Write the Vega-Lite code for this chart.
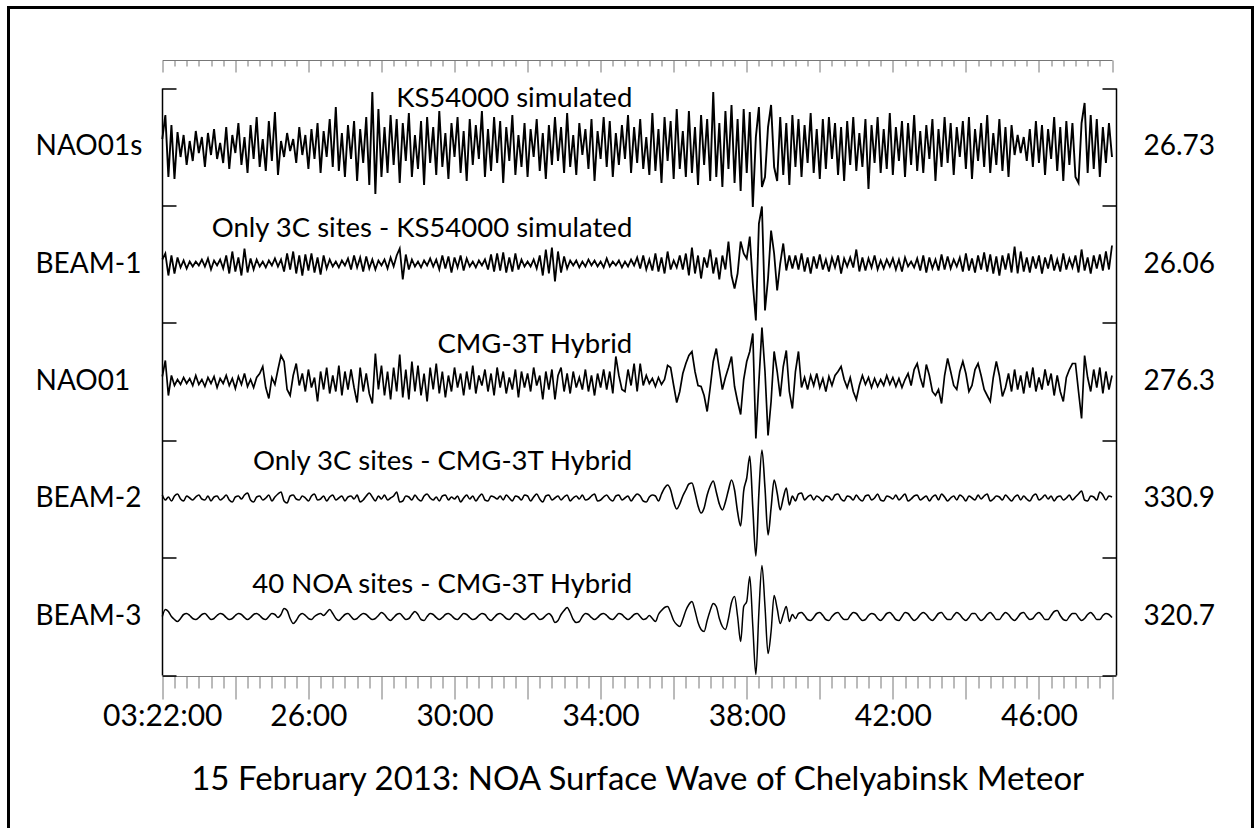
{
  "$schema": "https://vega.github.io/schema/vega-lite/v6.json",
  "width": 1244,
  "height": 832,
  "autosize": {"type": "none"},
  "padding": {"left": 8.5, "top": 7.5, "right": 2.5, "bottom": -11.5},
  "background": "white",
  "config": {
    "view": {"stroke": "black", "strokeWidth": 3},
    "font": "Lato",
    "axis": {"labelFont": "Lato", "titleFont": "Lato", "grid": false}
  },
  "datasets": {
    "notes": [
      {"note": "KS54000 simulated", "t": 772, "y": 568},
      {"note": "Only 3C sites - KS54000 simulated", "t": 772, "y": 438},
      {"note": "CMG-3T Hybrid", "t": 772, "y": 322},
      {"note": "Only 3C sites - CMG-3T Hybrid", "t": 772, "y": 205},
      {"note": "40 NOA sites - CMG-3T Hybrid", "t": 772, "y": 82}
    ],
    "traces": [
      {"t":0,"a":8,"b":4,"c":5,"d":3,"e":0},
      {"t":5,"a":32,"b":10,"c":21,"d":-2,"e":7},
      {"t":10,"a":-30,"b":-12,"c":-14,"d":1,"e":5},
      {"t":15,"a":22,"b":8,"c":6,"d":-3,"e":0},
      {"t":20,"a":-32,"b":-10,"c":-4,"d":2,"e":-3},
      {"t":25,"a":15,"b":6,"c":2,"d":4,"e":-5},
      {"t":30,"a":-10,"b":-4,"c":-3,"d":-1,"e":-2},
      {"t":35,"a":12,"b":3,"c":4,"d":-3,"e":2},
      {"t":40,"a":-18,"b":-5,"c":-2,"d":2,"e":3},
      {"t":45,"a":6,"b":2,"c":3,"d":0,"e":1},
      {"t":50,"a":-14,"b":-3,"c":-4,"d":-2,"e":-2},
      {"t":55,"a":16,"b":2,"c":6,"d":1,"e":-3},
      {"t":60,"a":-6,"b":-2,"c":-3,"d":3,"e":-1},
      {"t":65,"a":10,"b":4,"c":2,"d":-1,"e":2},
      {"t":70,"a":-20,"b":-3,"c":-5,"d":-2,"e":3},
      {"t":75,"a":14,"b":5,"c":4,"d":2,"e":0},
      {"t":80,"a":-8,"b":-6,"c":-2,"d":-3,"e":-3},
      {"t":85,"a":18,"b":3,"c":5,"d":1,"e":-2},
      {"t":90,"a":-12,"b":-2,"c":-6,"d":2,"e":1},
      {"t":95,"a":4,"b":4,"c":3,"d":-2,"e":3},
      {"t":100,"a":-16,"b":-5,"c":-2,"d":0,"e":2},
      {"t":105,"a":20,"b":8,"c":6,"d":3,"e":-1},
      {"t":110,"a":-22,"b":-10,"c":-4,"d":-2,"e":-3},
      {"t":115,"a":12,"b":12,"c":3,"d":-4,"e":-2},
      {"t":120,"a":-6,"b":-8,"c":-7,"d":1,"e":1},
      {"t":125,"a":24,"b":6,"c":5,"d":2,"e":3},
      {"t":130,"a":-18,"b":-12,"c":-3,"d":-1,"e":2},
      {"t":135,"a":10,"b":15,"c":8,"d":3,"e":-1},
      {"t":140,"a":-26,"b":-9,"c":-5,"d":5,"e":-3},
      {"t":145,"a":22,"b":5,"c":2,"d":-2,"e":-1},
      {"t":150,"a":-12,"b":-6,"c":-6,"d":-4,"e":2},
      {"t":155,"a":30,"b":4,"c":4,"d":1,"e":3},
      {"t":160,"a":-20,"b":-3,"c":8,"d":2,"e":1},
      {"t":165,"a":8,"b":2,"c":15,"d":-2,"e":-2},
      {"t":170,"a":-24,"b":-4,"c":-6,"d":0,"e":-3},
      {"t":175,"a":26,"b":3,"c":-17,"d":3,"e":0},
      {"t":180,"a":-14,"b":-2,"c":4,"d":-3,"e":3},
      {"t":185,"a":35,"b":5,"c":-3,"d":1,"e":2},
      {"t":190,"a":-28,"b":-3,"c":12,"d":4,"e":-1},
      {"t":195,"a":6,"b":4,"c":26,"d":6,"e":2},
      {"t":200,"a":-10,"b":-8,"c":20,"d":-3,"e":8},
      {"t":205,"a":14,"b":10,"c":-8,"d":-5,"e":6},
      {"t":210,"a":-4,"b":-6,"c":-14,"d":2,"e":-2},
      {"t":215,"a":8,"b":12,"c":6,"d":3,"e":-7},
      {"t":220,"a":-16,"b":-10,"c":18,"d":-1,"e":-4},
      {"t":225,"a":20,"b":8,"c":-4,"d":-2,"e":1},
      {"t":230,"a":-8,"b":-12,"c":8,"d":2,"e":3},
      {"t":235,"a":12,"b":9,"c":-10,"d":0,"e":1},
      {"t":240,"a":-22,"b":-7,"c":12,"d":-3,"e":-2},
      {"t":245,"a":18,"b":10,"c":-6,"d":2,"e":-3},
      {"t":250,"a":-12,"b":-9,"c":4,"d":4,"e":0},
      {"t":255,"a":24,"b":6,"c":-20,"d":-2,"e":2},
      {"t":260,"a":-26,"b":-11,"c":10,"d":-1,"e":3},
      {"t":265,"a":16,"b":8,"c":-8,"d":2,"e":1},
      {"t":270,"a":-10,"b":-5,"c":14,"d":-3,"e":4},
      {"t":275,"a":28,"b":4,"c":-12,"d":1,"e":7},
      {"t":280,"a":-20,"b":-3,"c":6,"d":3,"e":3},
      {"t":285,"a":40,"b":2,"c":-10,"d":-2,"e":-2},
      {"t":290,"a":-24,"b":-4,"c":16,"d":0,"e":-4},
      {"t":295,"a":14,"b":3,"c":-14,"d":2,"e":-1},
      {"t":300,"a":-30,"b":-2,"c":10,"d":-3,"e":2},
      {"t":305,"a":22,"b":5,"c":-8,"d":1,"e":3},
      {"t":310,"a":-12,"b":-6,"c":12,"d":2,"e":0},
      {"t":315,"a":26,"b":8,"c":-6,"d":-1,"e":-3},
      {"t":320,"a":-34,"b":-4,"c":-21,"d":3,"e":-2},
      {"t":325,"a":18,"b":6,"c":14,"d":-4,"e":1},
      {"t":330,"a":-16,"b":-8,"c":-10,"d":-2,"e":3},
      {"t":335,"a":30,"b":7,"c":8,"d":2,"e":2},
      {"t":340,"a":-38,"b":-5,"c":-12,"d":5,"e":-1},
      {"t":345,"a":55,"b":4,"c":-22,"d":1,"e":-3},
      {"t":350,"a":-47,"b":-6,"c":28,"d":-3,"e":-2},
      {"t":355,"a":38,"b":3,"c":-8,"d":2,"e":1},
      {"t":360,"a":-30,"b":-2,"c":16,"d":-1,"e":4},
      {"t":365,"a":20,"b":4,"c":-14,"d":3,"e":2},
      {"t":370,"a":-26,"b":-5,"c":10,"d":-2,"e":-2},
      {"t":375,"a":32,"b":6,"c":-18,"d":0,"e":-4},
      {"t":380,"a":-18,"b":-3,"c":14,"d":2,"e":-1},
      {"t":385,"a":28,"b":8,"c":-10,"d":6,"e":2},
      {"t":390,"a":-36,"b":15,"c":27,"d":-4,"e":3},
      {"t":395,"a":24,"b":-16,"c":-16,"d":-3,"e":0},
      {"t":400,"a":-14,"b":9,"c":12,"d":2,"e":-3},
      {"t":405,"a":34,"b":-6,"c":-18,"d":1,"e":-2},
      {"t":410,"a":-30,"b":4,"c":20,"d":-2,"e":2},
      {"t":415,"a":12,"b":-3,"c":-10,"d":3,"e":5},
      {"t":420,"a":-22,"b":2,"c":16,"d":-1,"e":2},
      {"t":425,"a":26,"b":-4,"c":-14,"d":-3,"e":-3},
      {"t":430,"a":-38,"b":3,"c":8,"d":2,"e":-4},
      {"t":435,"a":30,"b":-2,"c":-20,"d":4,"e":0},
      {"t":440,"a":-16,"b":5,"c":14,"d":0,"e":3},
      {"t":445,"a":20,"b":-3,"c":-8,"d":-2,"e":2},
      {"t":450,"a":-28,"b":4,"c":18,"d":1,"e":-1},
      {"t":455,"a":36,"b":-6,"c":-12,"d":-3,"e":-3},
      {"t":460,"a":-20,"b":8,"c":10,"d":2,"e":-1},
      {"t":465,"a":14,"b":-5,"c":-16,"d":3,"e":2},
      {"t":470,"a":-32,"b":7,"c":6,"d":-2,"e":3},
      {"t":475,"a":24,"b":-9,"c":-10,"d":1,"e":1},
      {"t":480,"a":-10,"b":6,"c":14,"d":-1,"e":-2},
      {"t":485,"a":30,"b":-4,"c":-6,"d":2,"e":-3},
      {"t":490,"a":-26,"b":8,"c":8,"d":-4,"e":0},
      {"t":495,"a":16,"b":-7,"c":-14,"d":0,"e":3},
      {"t":500,"a":-34,"b":5,"c":10,"d":3,"e":2},
      {"t":505,"a":28,"b":-3,"c":-8,"d":-1,"e":-1},
      {"t":510,"a":-18,"b":2,"c":16,"d":2,"e":-3},
      {"t":515,"a":22,"b":-4,"c":-12,"d":-3,"e":-2},
      {"t":520,"a":-12,"b":3,"c":6,"d":1,"e":1},
      {"t":525,"a":36,"b":-2,"c":-4,"d":4,"e":3},
      {"t":530,"a":-30,"b":4,"c":12,"d":-2,"e":2},
      {"t":535,"a":18,"b":-6,"c":-10,"d":-3,"e":-2},
      {"t":540,"a":-24,"b":9,"c":8,"d":2,"e":-4},
      {"t":545,"a":30,"b":-8,"c":-14,"d":1,"e":-1},
      {"t":550,"a":-16,"b":10,"c":14,"d":-1,"e":2},
      {"t":555,"a":26,"b":-7,"c":-6,"d":2,"e":3},
      {"t":560,"a":-36,"b":11,"c":10,"d":-2,"e":1},
      {"t":565,"a":20,"b":-9,"c":-12,"d":3,"e":-2},
      {"t":570,"a":-14,"b":6,"c":4,"d":0,"e":-3},
      {"t":575,"a":32,"b":-8,"c":-8,"d":-3,"e":0},
      {"t":580,"a":-28,"b":10,"c":12,"d":2,"e":3},
      {"t":585,"a":12,"b":-6,"c":-16,"d":1,"e":2},
      {"t":590,"a":-20,"b":4,"c":10,"d":-2,"e":-1},
      {"t":595,"a":24,"b":-3,"c":-6,"d":3,"e":-3},
      {"t":600,"a":-30,"b":2,"c":8,"d":2,"e":-1},
      {"t":605,"a":18,"b":-3,"c":-10,"d":-3,"e":2},
      {"t":610,"a":-10,"b":4,"c":14,"d":1,"e":3},
      {"t":615,"a":28,"b":-5,"c":-4,"d":4,"e":0},
      {"t":620,"a":-24,"b":8,"c":6,"d":-1,"e":-3},
      {"t":625,"a":14,"b":-12,"c":-18,"d":-4,"e":-2},
      {"t":630,"a":-32,"b":14,"c":10,"d":2,"e":1},
      {"t":635,"a":22,"b":-10,"c":-8,"d":3,"e":3},
      {"t":640,"a":-18,"b":16,"c":12,"d":-2,"e":0},
      {"t":645,"a":30,"b":-18,"c":-18,"d":0,"e":-6},
      {"t":650,"a":-14,"b":12,"c":6,"d":2,"e":-4},
      {"t":655,"a":20,"b":-9,"c":14,"d":-2,"e":2},
      {"t":660,"a":-26,"b":7,"c":-10,"d":1,"e":6},
      {"t":665,"a":34,"b":-5,"c":8,"d":3,"e":9},
      {"t":670,"a":-20,"b":3,"c":-12,"d":-3,"e":4},
      {"t":675,"a":12,"b":-2,"c":10,"d":0,"e":-3},
      {"t":680,"a":-28,"b":3,"c":-6,"d":2,"e":-6},
      {"t":685,"a":24,"b":-4,"c":4,"d":-1,"e":-5},
      {"t":690,"a":-8,"b":2,"c":-8,"d":3,"e":0},
      {"t":695,"a":18,"b":-3,"c":12,"d":-2,"e":3},
      {"t":700,"a":-22,"b":4,"c":-10,"d":-1,"e":2},
      {"t":705,"a":28,"b":-2,"c":6,"d":2,"e":-1},
      {"t":710,"a":-34,"b":3,"c":-14,"d":4,"e":-3},
      {"t":715,"a":16,"b":-3,"c":8,"d":-3,"e":-1},
      {"t":720,"a":-12,"b":2,"c":-6,"d":-2,"e":2},
      {"t":725,"a":30,"b":-4,"c":12,"d":1,"e":3},
      {"t":730,"a":-20,"b":5,"c":-8,"d":3,"e":1},
      {"t":735,"a":26,"b":-3,"c":10,"d":-1,"e":-2},
      {"t":740,"a":-30,"b":2,"c":-12,"d":-3,"e":-3},
      {"t":745,"a":14,"b":-2,"c":25,"d":2,"e":0},
      {"t":750,"a":-18,"b":3,"c":6,"d":3,"e":3},
      {"t":755,"a":22,"b":-4,"c":-8,"d":-2,"e":2},
      {"t":760,"a":-12,"b":2,"c":-10,"d":0,"e":-1},
      {"t":765,"a":32,"b":-3,"c":12,"d":2,"e":-3},
      {"t":770,"a":-26,"b":4,"c":-4,"d":-3,"e":-1},
      {"t":775,"a":20,"b":-2,"c":18,"d":1,"e":2},
      {"t":780,"a":-16,"b":6,"c":-10,"d":4,"e":3},
      {"t":785,"a":28,"b":-5,"c":18,"d":2,"e":0},
      {"t":790,"a":-22,"b":8,"c":-4,"d":-3,"e":-3},
      {"t":795,"a":10,"b":-6,"c":6,"d":-4,"e":-2},
      {"t":800,"a":-28,"b":4,"c":-2,"d":1,"e":1},
      {"t":805,"a":34,"b":-7,"c":3,"d":3,"e":-2},
      {"t":810,"a":-24,"b":10,"c":-5,"d":2,"e":-5},
      {"t":815,"a":18,"b":-8,"c":4,"d":-3,"e":2},
      {"t":820,"a":-36,"b":6,"c":-3,"d":4,"e":6},
      {"t":825,"a":30,"b":-10,"c":2,"d":10,"e":9},
      {"t":830,"a":-14,"b":12,"c":16,"d":13,"e":10},
      {"t":835,"a":26,"b":-6,"c":14,"d":8,"e":4},
      {"t":840,"a":-32,"b":3,"c":-4,"d":-4,"e":-4},
      {"t":845,"a":38,"b":-4,"c":-21,"d":-11,"e":-8},
      {"t":850,"a":-22,"b":8,"c":-10,"d":-6,"e":-10},
      {"t":855,"a":16,"b":-6,"c":8,"d":2,"e":-3},
      {"t":860,"a":-30,"b":10,"c":18,"d":8,"e":6},
      {"t":865,"a":36,"b":-12,"c":26,"d":14,"e":12},
      {"t":870,"a":-26,"b":16,"c":30,"d":15,"e":15},
      {"t":875,"a":20,"b":-10,"c":10,"d":5,"e":6},
      {"t":880,"a":-38,"b":8,"c":-4,"d":-8,"e":-6},
      {"t":885,"a":32,"b":-15,"c":-5,"d":-15,"e":-13},
      {"t":890,"a":-18,"b":6,"c":-14,"d":-10,"e":-15},
      {"t":895,"a":28,"b":-4,"c":-30,"d":3,"e":-4},
      {"t":900,"a":-34,"b":14,"c":-6,"d":12,"e":6},
      {"t":905,"a":55,"b":-10,"c":20,"d":17,"e":13},
      {"t":910,"a":-30,"b":6,"c":33,"d":6,"e":10},
      {"t":915,"a":24,"b":-16,"c":12,"d":-6,"e":-2},
      {"t":920,"a":-40,"b":8,"c":-8,"d":-12,"e":-10},
      {"t":925,"a":36,"b":-6,"c":4,"d":-4,"e":-13},
      {"t":930,"a":-22,"b":22,"c":14,"d":8,"e":-2},
      {"t":935,"a":42,"b":-12,"c":25,"d":18,"e":14},
      {"t":940,"a":-36,"b":-25,"c":-5,"d":8,"e":20},
      {"t":945,"a":28,"b":-10,"c":-20,"d":-14,"e":0},
      {"t":950,"a":-44,"b":22,"c":-33,"d":-28,"e":-25},
      {"t":955,"a":38,"b":10,"c":2,"d":7,"e":10},
      {"t":960,"a":-26,"b":5,"c":20,"d":20,"e":15},
      {"t":965,"a":35,"b":27,"c":30,"d":42,"e":40},
      {"t":970,"a":-60,"b":-20,"c":48,"d":-10,"e":-10},
      {"t":975,"a":10,"b":-57,"c":-57,"d":-58,"e":-58},
      {"t":980,"a":40,"b":40,"c":0,"d":5,"e":5},
      {"t":985,"a":-40,"b":57,"c":54,"d":48,"e":51},
      {"t":990,"a":-30,"b":-47,"c":10,"d":10,"e":10},
      {"t":995,"a":20,"b":-15,"c":-54,"d":-37,"e":-37},
      {"t":1000,"a":42,"b":33,"c":-20,"d":-10,"e":-15},
      {"t":1005,"a":-20,"b":10,"c":30,"d":18,"e":21},
      {"t":1010,"a":-34,"b":-27,"c":10,"d":5,"e":8},
      {"t":1015,"a":30,"b":0,"c":-15,"d":-12,"e":-7},
      {"t":1020,"a":-28,"b":20,"c":15,"d":0,"e":2},
      {"t":1025,"a":24,"b":-7,"c":31,"d":10,"e":10},
      {"t":1030,"a":-38,"b":8,"c":-10,"d":-7,"e":-5},
      {"t":1035,"a":32,"b":-5,"c":-27,"d":2,"e":2},
      {"t":1040,"a":-20,"b":8,"c":10,"d":-3,"e":-2},
      {"t":1045,"a":28,"b":-6,"c":30,"d":4,"e":3},
      {"t":1050,"a":-30,"b":10,"c":-6,"d":5,"e":4},
      {"t":1055,"a":22,"b":-8,"c":4,"d":-2,"e":1},
      {"t":1060,"a":-16,"b":6,"c":-8,"d":1,"e":-3},
      {"t":1065,"a":34,"b":-10,"c":6,"d":3,"e":-4},
      {"t":1070,"a":-26,"b":7,"c":-4,"d":-2,"e":-1},
      {"t":1075,"a":18,"b":-5,"c":8,"d":2,"e":3},
      {"t":1080,"a":-32,"b":9,"c":-6,"d":0,"e":4},
      {"t":1085,"a":28,"b":-6,"c":3,"d":-3,"e":1},
      {"t":1090,"a":-22,"b":4,"c":-10,"d":2,"e":-3},
      {"t":1095,"a":30,"b":-8,"c":5,"d":1,"e":-4},
      {"t":1100,"a":-12,"b":6,"c":-4,"d":-2,"e":0},
      {"t":1105,"a":24,"b":-4,"c":6,"d":3,"e":3},
      {"t":1110,"a":-28,"b":8,"c":10,"d":4,"e":4},
      {"t":1115,"a":20,"b":-10,"c":15,"d":-1,"e":0},
      {"t":1120,"a":-34,"b":5,"c":2,"d":-3,"e":-3},
      {"t":1125,"a":26,"b":-3,"c":-6,"d":2,"e":-3},
      {"t":1130,"a":-18,"b":6,"c":4,"d":1,"e":1},
      {"t":1135,"a":30,"b":-4,"c":-10,"d":-2,"e":4},
      {"t":1140,"a":-24,"b":14,"c":-18,"d":3,"e":3},
      {"t":1145,"a":14,"b":-8,"c":-4,"d":-1,"e":-1},
      {"t":1150,"a":-20,"b":6,"c":6,"d":-3,"e":-4},
      {"t":1155,"a":28,"b":-7,"c":-3,"d":2,"e":-3},
      {"t":1160,"a":-42,"b":5,"c":4,"d":3,"e":1},
      {"t":1165,"a":22,"b":-4,"c":-6,"d":-2,"e":3},
      {"t":1170,"a":-16,"b":8,"c":3,"d":0,"e":2},
      {"t":1175,"a":30,"b":-6,"c":-5,"d":4,"e":-2},
      {"t":1180,"a":-26,"b":3,"c":2,"d":-2,"e":-4},
      {"t":1185,"a":18,"b":-5,"c":-4,"d":-3,"e":-1},
      {"t":1190,"a":-22,"b":4,"c":6,"d":2,"e":3},
      {"t":1195,"a":34,"b":-3,"c":-3,"d":1,"e":4},
      {"t":1200,"a":-28,"b":5,"c":4,"d":-1,"e":1},
      {"t":1205,"a":20,"b":-6,"c":-5,"d":3,"e":-3},
      {"t":1210,"a":-14,"b":4,"c":3,"d":-2,"e":-4},
      {"t":1215,"a":26,"b":-8,"c":-6,"d":1,"e":0},
      {"t":1220,"a":-30,"b":6,"c":2,"d":4,"e":4},
      {"t":1225,"a":24,"b":-3,"c":8,"d":-3,"e":3},
      {"t":1230,"a":-18,"b":2,"c":-4,"d":-1,"e":-1},
      {"t":1235,"a":32,"b":-4,"c":12,"d":2,"e":-4},
      {"t":1240,"a":-24,"b":5,"c":18,"d":3,"e":-2},
      {"t":1245,"a":16,"b":-7,"c":4,"d":-2,"e":2},
      {"t":1250,"a":-26,"b":8,"c":-6,"d":0,"e":4},
      {"t":1255,"a":22,"b":-9,"c":17,"d":2,"e":2},
      {"t":1260,"a":-12,"b":6,"c":6,"d":-3,"e":-2},
      {"t":1265,"a":28,"b":-5,"c":-10,"d":1,"e":-4},
      {"t":1270,"a":-34,"b":4,"c":-14,"d":3,"e":-1},
      {"t":1275,"a":18,"b":-7,"c":-8,"d":-2,"e":3},
      {"t":1280,"a":-20,"b":9,"c":-22,"d":4,"e":4},
      {"t":1285,"a":30,"b":-6,"c":6,"d":1,"e":0},
      {"t":1290,"a":-16,"b":7,"c":23,"d":-3,"e":-3},
      {"t":1295,"a":24,"b":-5,"c":10,"d":0,"e":-3},
      {"t":1300,"a":-28,"b":4,"c":-4,"d":2,"e":1},
      {"t":1305,"a":20,"b":-3,"c":-8,"d":-2,"e":4},
      {"t":1310,"a":-10,"b":6,"c":10,"d":3,"e":2},
      {"t":1315,"a":26,"b":-8,"c":20,"d":1,"e":-2},
      {"t":1320,"a":-22,"b":10,"c":8,"d":-3,"e":-4},
      {"t":1325,"a":30,"b":-7,"c":-10,"d":2,"e":-1},
      {"t":1330,"a":-32,"b":5,"c":-4,"d":0,"e":3},
      {"t":1335,"a":18,"b":-9,"c":12,"d":-2,"e":3},
      {"t":1340,"a":-14,"b":8,"c":18,"d":3,"e":-1},
      {"t":1345,"a":24,"b":-6,"c":6,"d":-1,"e":-4},
      {"t":1350,"a":-20,"b":11,"c":-8,"d":2,"e":-2},
      {"t":1355,"a":32,"b":-8,"c":-14,"d":4,"e":2},
      {"t":1360,"a":-26,"b":9,"c":-20,"d":-3,"e":4},
      {"t":1365,"a":14,"b":-10,"c":4,"d":-1,"e":1},
      {"t":1370,"a":-18,"b":7,"c":20,"d":2,"e":-3},
      {"t":1375,"a":28,"b":-12,"c":6,"d":1,"e":-3},
      {"t":1380,"a":-24,"b":8,"c":-15,"d":-2,"e":1},
      {"t":1385,"a":20,"b":-6,"c":-6,"d":3,"e":4},
      {"t":1390,"a":-30,"b":10,"c":8,"d":0,"e":2},
      {"t":1395,"a":22,"b":-9,"c":-10,"d":-3,"e":-2},
      {"t":1400,"a":-8,"b":17,"c":12,"d":1,"e":-4},
      {"t":1405,"a":12,"b":-10,"c":-8,"d":3,"e":-1},
      {"t":1410,"a":-6,"b":12,"c":6,"d":-2,"e":3},
      {"t":1415,"a":10,"b":-8,"c":-12,"d":2,"e":4},
      {"t":1420,"a":-14,"b":6,"c":10,"d":-1,"e":0},
      {"t":1425,"a":18,"b":-9,"c":-6,"d":-3,"e":-3},
      {"t":1430,"a":-20,"b":7,"c":14,"d":2,"e":-2},
      {"t":1435,"a":26,"b":-5,"c":-10,"d":4,"e":2},
      {"t":1440,"a":-16,"b":8,"c":4,"d":-2,"e":4},
      {"t":1445,"a":22,"b":-10,"c":-8,"d":0,"e":1},
      {"t":1450,"a":-28,"b":6,"c":12,"d":3,"e":-3},
      {"t":1455,"a":18,"b":-5,"c":-4,"d":-1,"e":-3},
      {"t":1460,"a":-12,"b":9,"c":8,"d":2,"e":1},
      {"t":1465,"a":30,"b":-7,"c":-14,"d":-3,"e":5},
      {"t":1470,"a":-24,"b":4,"c":6,"d":1,"e":6},
      {"t":1475,"a":20,"b":-8,"c":-10,"d":2,"e":1},
      {"t":1480,"a":-34,"b":10,"c":-20,"d":-2,"e":-3},
      {"t":1485,"a":26,"b":-6,"c":4,"d":0,"e":-4},
      {"t":1490,"a":-18,"b":5,"c":12,"d":3,"e":0},
      {"t":1495,"a":24,"b":-4,"c":18,"d":-2,"e":3},
      {"t":1500,"a":-30,"b":8,"c":18,"d":1,"e":3},
      {"t":1505,"a":-36,"b":-9,"c":-10,"d":4,"e":-1},
      {"t":1510,"a":24,"b":14,"c":-37,"d":7,"e":-4},
      {"t":1515,"a":44,"b":-7,"c":26,"d":-2,"e":-2},
      {"t":1520,"a":-26,"b":6,"c":4,"d":-3,"e":2},
      {"t":1525,"a":32,"b":-10,"c":-10,"d":2,"e":4},
      {"t":1530,"a":-22,"b":8,"c":12,"d":1,"e":1},
      {"t":1535,"a":28,"b":-5,"c":-6,"d":-2,"e":-3},
      {"t":1540,"a":-30,"b":9,"c":14,"d":6,"e":-3},
      {"t":1545,"a":20,"b":-7,"c":-12,"d":3,"e":1},
      {"t":1550,"a":-16,"b":12,"c":10,"d":-2,"e":3},
      {"t":1555,"a":24,"b":-6,"c":-8,"d":2,"e":2},
      {"t":1560,"a":-10,"b":18,"c":6,"d":1,"e":-1}
    ]
  },
  "layer": [
    {
      "data": {"name": "traces"},
      "mark": {"type": "line", "color": "black", "strokeWidth": 1.9},
      "encoding": {
        "x": {
          "field": "t", "type": "quantitative",
          "scale": {"domain": [0, 1560], "range": [153.8, 1103.5], "nice": false, "zero": false},
          "axis": {
            "orient": "top", "offset": -52.5, "title": null, "labels": false,
            "values": [0,20,40,60,80,100,120,140,160,180,200,220,240,260,280,300,320,340,360,380,400,420,440,460,480,500,520,540,560,580,600,620,640,660,680,700,720,740,760,780,800,820,840,860,880,900,920,940,960,980,1000,1020,1040,1060,1080,1100,1120,1140,1160,1180,1200,1220,1240,1260,1280,1300,1320,1340,1360,1380,1400,1420,1440,1460,1480,1500,1520,1540,1560],
            "domainColor": "#777", "domainWidth": 1, "tickColor": "#777", "tickWidth": 1,
            "tickSize": {"condition": {"test": "datum.value % 120 === 0", "value": -12}, "value": -6}
          }
        },
        "y": {
          "field": "a", "type": "quantitative",
          "scale": {"domain": [-528, 59], "range": [667.5, 80.5], "nice": false, "zero": false},
          "axis": {
            "orient": "right", "offset": -136.5, "title": null,
            "values": [-528, -410.6, -293.2, -175.8, -58.4, 59],
            "domainColor": "black", "domainWidth": 1.5, "tickColor": "black", "tickWidth": 1.5, "tickSize": -14,
            "labelExpr": "datum.value < -500 ? '320.7' : datum.value < -400 ? '330.9' : datum.value < -250 ? '276.3' : datum.value < -150 ? '26.06' : datum.value < 0 ? '26.73' : ''",
            "labelOffset": -58.7, "labelAlign": "left", "labelBaseline": "middle", "labelPadding": 41,
            "labelFontSize": 28, "labelColor": "black", "labelOverlap": false, "labelBound": false, "labelFlush": false
          }
        }
      }
    },
    {
      "data": {"name": "traces"},
      "mark": {"type": "line", "color": "black", "strokeWidth": 1.8},
      "encoding": {
        "x": {"field": "t", "type": "quantitative", "axis": null},
        "y": {"field": "b", "type": "quantitative", "axis": null,
              "scale": {"domain": [-411.5, 175.5], "range": [667.5, 80.5], "nice": false, "zero": false}}
      }
    },
    {
      "data": {"name": "traces"},
      "mark": {"type": "line", "color": "black", "strokeWidth": 1.7},
      "encoding": {
        "x": {"field": "t", "type": "quantitative", "axis": null},
        "y": {"field": "c", "type": "quantitative", "axis": null,
              "scale": {"domain": [-293.5, 293.5], "range": [667.5, 80.5], "nice": false, "zero": false}}
      }
    },
    {
      "data": {"name": "traces"},
      "mark": {"type": "line", "color": "black", "strokeWidth": 1.6, "interpolate": "monotone"},
      "encoding": {
        "x": {"field": "t", "type": "quantitative", "axis": null},
        "y": {"field": "d", "type": "quantitative", "axis": null,
              "scale": {"domain": [-177, 410], "range": [667.5, 80.5], "nice": false, "zero": false}}
      }
    },
    {
      "data": {"name": "traces"},
      "mark": {"type": "line", "color": "black", "strokeWidth": 1.5, "interpolate": "monotone"},
      "encoding": {
        "x": {"field": "t", "type": "quantitative", "axis": null},
        "y": {"field": "e", "type": "quantitative", "axis": null,
              "scale": {"domain": [-58.5, 528.5], "range": [667.5, 80.5], "nice": false, "zero": false}}
      }
    },
    {
      "data": {"name": "notes"},
      "mark": {"type": "text", "align": "right", "baseline": "alphabetic", "font": "Lato", "fontSize": 27.5, "color": "black"},
      "encoding": {
        "text": {"field": "note"},
        "x": {
          "field": "t", "type": "quantitative",
          "axis": {
            "orient": "bottom", "offset": -163.5,
            "values": [0,20,40,60,80,100,120,140,160,180,200,220,240,260,280,300,320,340,360,380,400,420,440,460,480,500,520,540,560,580,600,620,640,660,680,700,720,740,760,780,800,820,840,860,880,900,920,940,960,980,1000,1020,1040,1060,1080,1100,1120,1140,1160,1180,1200,1220,1240,1260,1280,1300,1320,1340,1360,1380,1400,1420,1440,1460,1480,1500,1520,1540,1560],
            "domainColor": "#777", "domainWidth": 1, "tickColor": "#777", "tickWidth": 1,
            "tickSize": {"condition": {"test": "datum.value % 120 === 0", "value": 23}, "value": 12},
            "labelExpr": "datum.value === 0 ? '03:22:00' : (datum.value % 240 === 0 ? (22 + datum.value / 60) + ':00' : '')",
            "labelFontSize": 30, "labelColor": "black", "labelPadding": 2, "labelOverlap": false, "labelFlush": false, "labelBound": false,
            "title": "15 February 2013: NOA Surface Wave of Chelyabinsk Meteor",
            "titleFontSize": 33, "titleFontWeight": "normal", "titleColor": "black", "titlePadding": 32
          }
        },
        "y": {
          "field": "y", "type": "quantitative",
          "scale": {"domain": [0, 587], "range": [667.5, 80.5], "nice": false, "zero": false},
          "axis": {
            "orient": "left", "offset": -153.5, "title": null,
            "values": [0, 117.4, 234.8, 352.2, 469.6, 587],
            "domainColor": "black", "domainWidth": 1.5, "tickColor": "black", "tickWidth": 1.5, "tickSize": -14,
            "labelExpr": "datum.value < 50 ? 'BEAM-3' : datum.value < 150 ? 'BEAM-2' : datum.value < 300 ? 'NAO01' : datum.value < 400 ? 'BEAM-1' : datum.value < 500 ? 'NAO01s' : ''",
            "labelOffset": -58.7, "labelAlign": "left", "labelBaseline": "middle", "labelPadding": 141,
            "labelFontSize": 28, "labelColor": "black", "labelOverlap": false, "labelBound": false, "labelFlush": false
          }
        }
      }
    }
  ],
  "resolve": {"scale": {"y": "independent"}, "axis": {"x": "independent", "y": "independent"}}
}
